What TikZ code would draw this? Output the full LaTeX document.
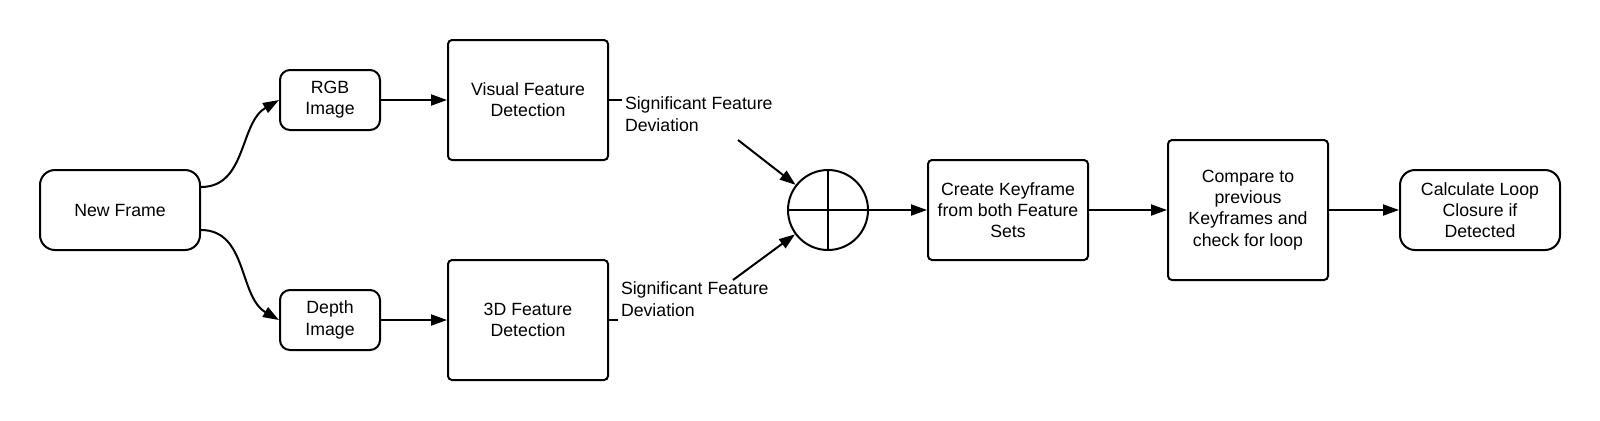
\documentclass[tikz,border=0pt]{standalone}
\usepackage{fontspec}
\setmainfont{Liberation Sans}
\usetikzlibrary{arrows.meta,calc}
\begin{document}
\begin{tikzpicture}[x=0.5pt,y=-0.5pt,
  font=\fontsize{8.85}{10.6}\selectfont,
  line width=1pt,
  box/.style={draw,line width=1pt,align=center,inner sep=0pt},
  small/.style={box,rounded corners=5pt,minimum width=50pt,minimum height=30pt},
  big/.style={box,rounded corners=2pt,minimum width=80pt},
  term/.style={box,rounded corners=7.5pt,minimum width=80pt,minimum height=40pt},
  lbl/.style={align=left,inner sep=1pt,anchor=north west},
  arr/.style={-{Triangle[length=8pt,width=5.5pt]},line width=1pt},
]
\useasboundingbox (0,0) rectangle (1600,420);

\node[term] (nf) at (120,210) {New Frame};
\node[small] (rgb) at (330,100) {RGB\\Image};
\node[small] (dep) at (330,320) {Depth\\Image};
\node[big,minimum height=60pt] (vis) at (528,100) {Visual Feature\\Detection};
\node[big,minimum height=60pt] (tdd) at (528,320) {3D Feature\\Detection};
\node[draw,circle,minimum size=40pt,inner sep=0pt,line width=1pt] (sum) at (828,210) {};
\draw (sum.north) -- (sum.south) (sum.west) -- (sum.east);
\node[big,minimum height=50pt] (kf) at (1008,210) {Create Keyframe\\from both Feature\\Sets};
\node[big,minimum height=70pt] (cmp) at (1248,210) {Compare to\\previous\\Keyframes and\\check for loop};
\node[term] (lc) at (1480,210) {Calculate Loop\\Closure if\\Detected};

\node[lbl] (l1) at (622,94) {Significant Feature\\Deviation};
\node[lbl] (l2) at (618,279) {Significant Feature\\Deviation};

\coordinate (a1) at ($(nf.east)+(0,-23)$);
\coordinate (a2) at ($(nf.east)+(0,20)$);
\draw[arr] (a1) to[out=0,in=210] (rgb.west);
\draw[arr] (a2) to[out=0,in=150] (dep.west);
\draw[arr] (rgb.east) -- (vis.west);
\draw[arr] (dep.east) -- (tdd.west);
\draw (vis.east) -- (vis.east -| l1.west);
\draw (tdd.east) -- (tdd.east -| l2.west);
\coordinate (s1) at (738,140);
\coordinate (s2) at (733,280);
\draw[arr] (s1) -- (sum);
\draw[arr] (s2) -- (sum);
\draw[arr] (sum.east) -- (kf.west);
\draw[arr] (kf.east) -- (cmp.west);
\draw[arr] (cmp.east) -- (lc.west);
\end{tikzpicture}
\end{document}
